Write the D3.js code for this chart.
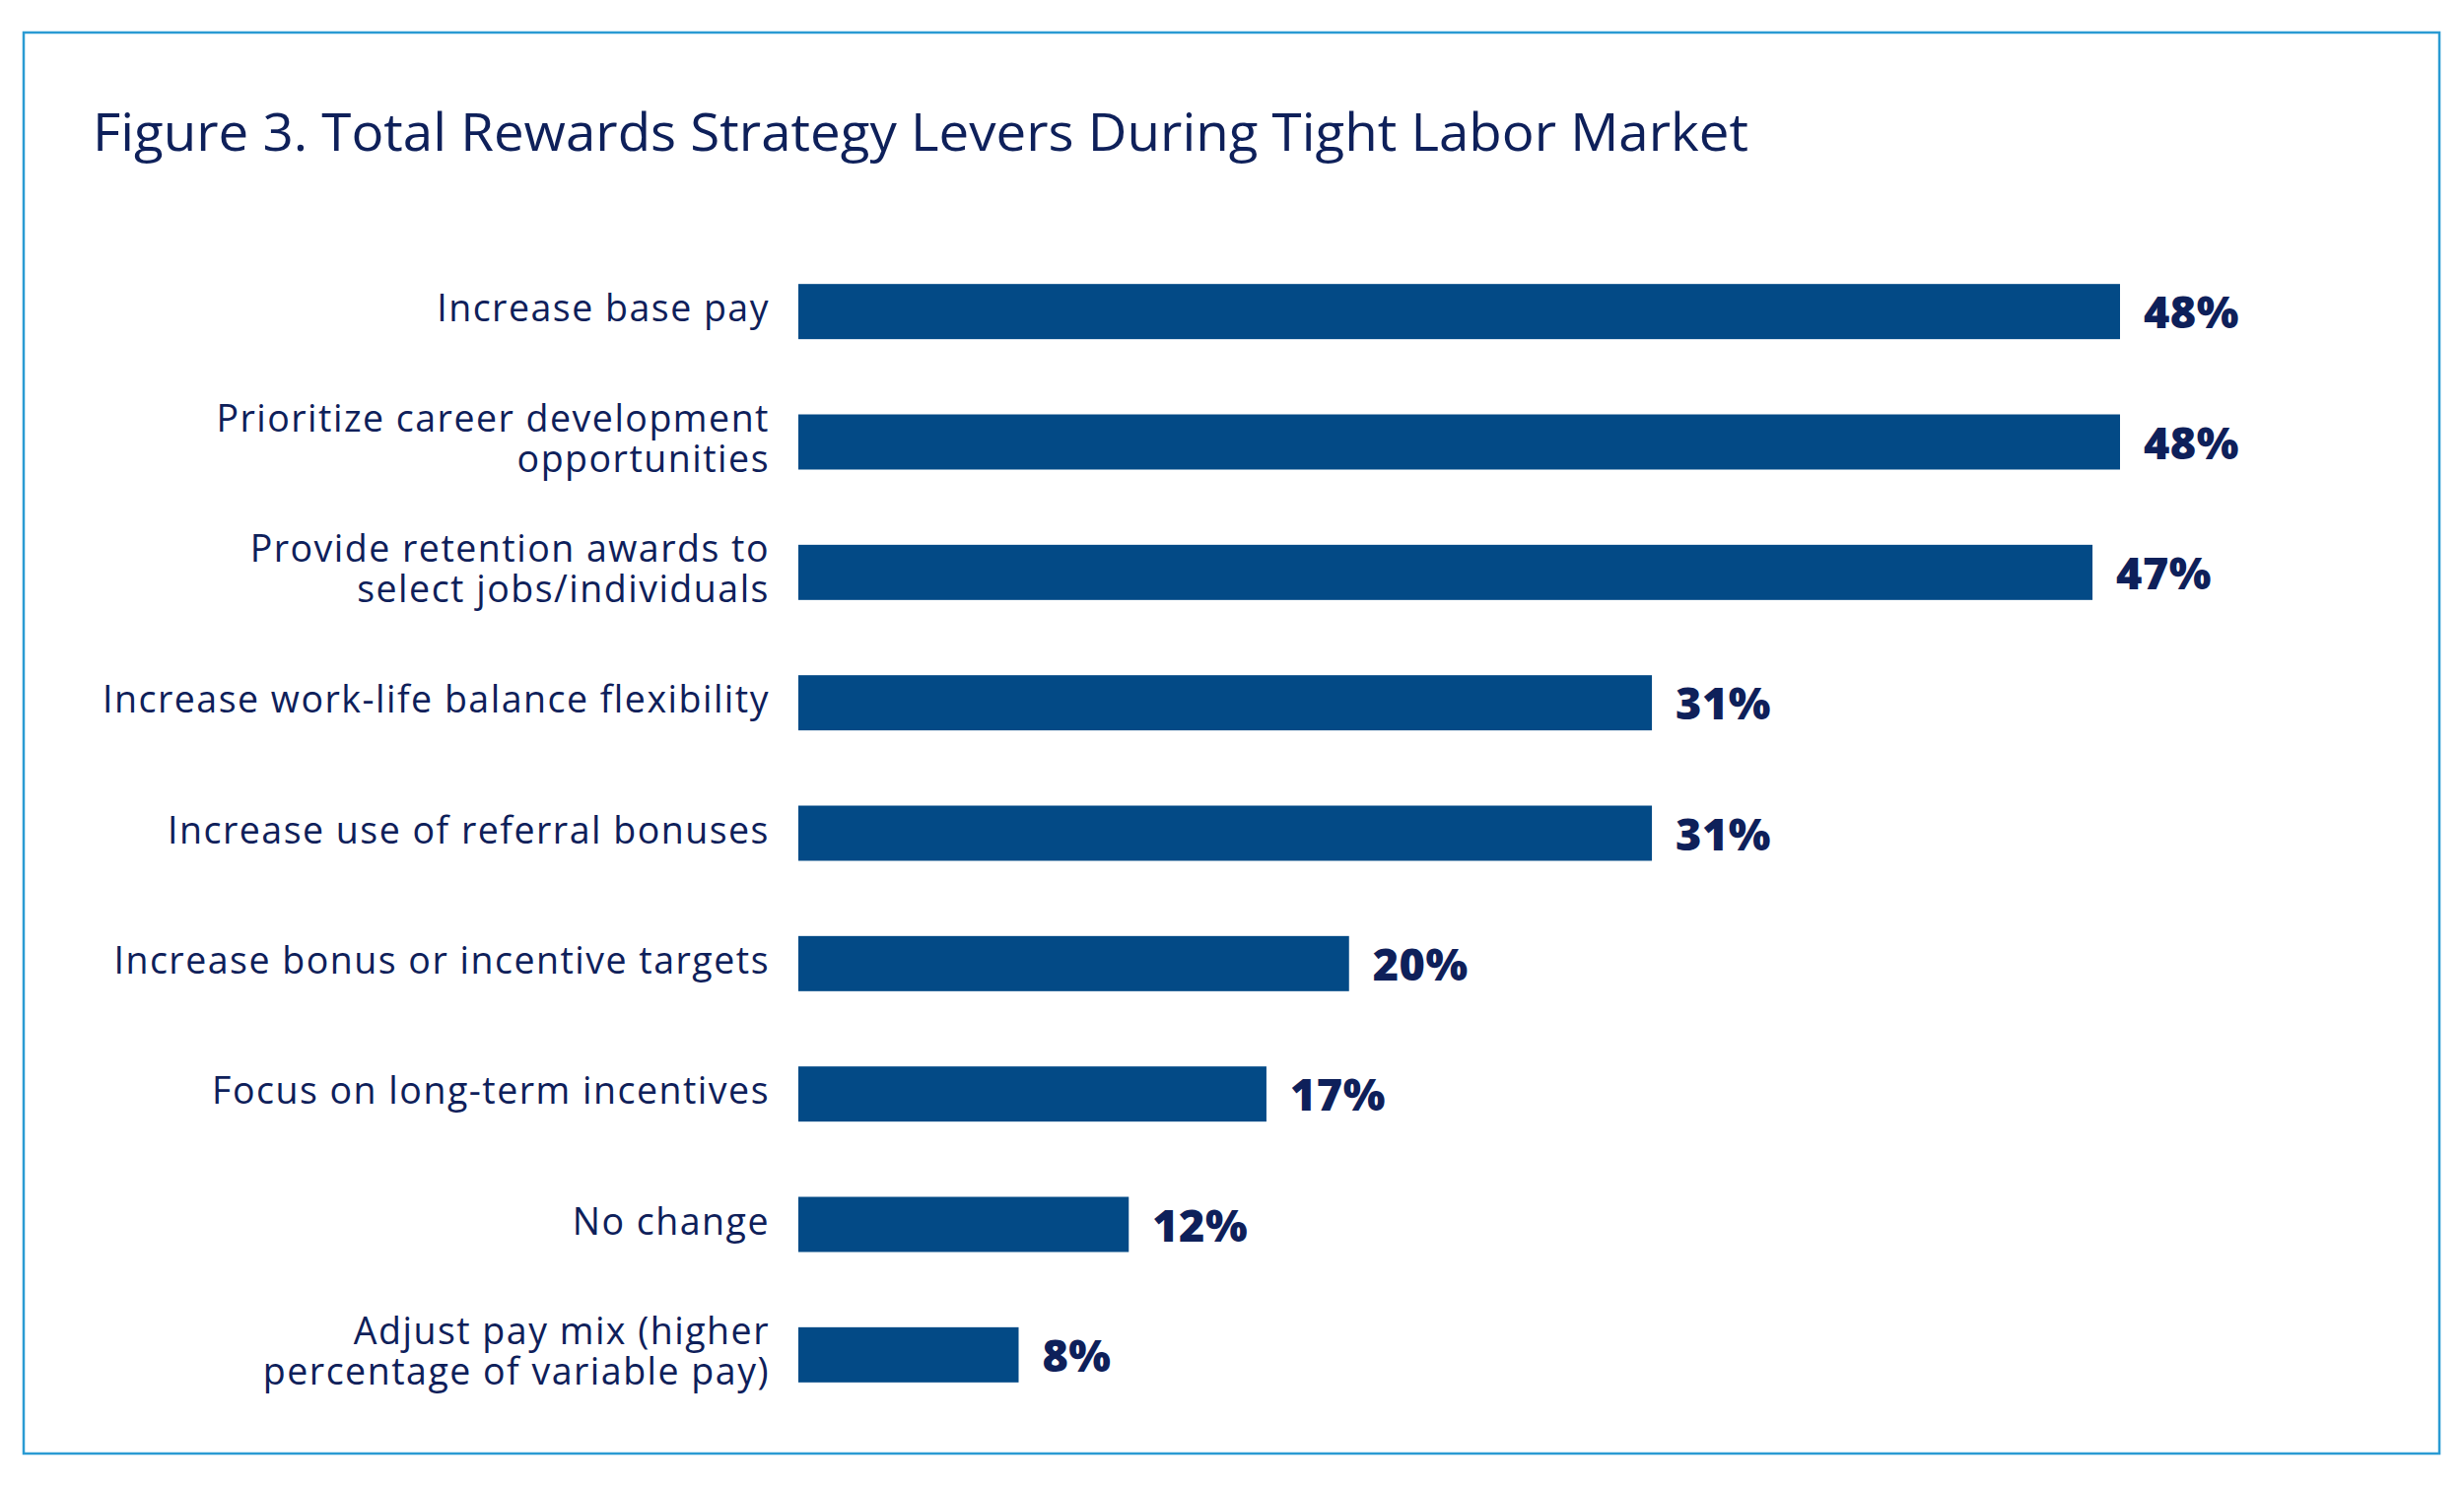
<!DOCTYPE html>
<html>
<head>
<meta charset="utf-8">
<script src="https://cdn.jsdelivr.net/npm/d3@7"></script>
<style>
  html, body { margin: 0; padding: 0; background: #fff; }
  svg { display: block; }
</style>
</head>
<body>
<svg id="chart" width="2500" height="1512"></svg>
<script>
var title = "Figure 3. Total Rewards Strategy Levers During Tight Labor Market";

var categories = [
    "Increase base pay",
    "Prioritize career development\nopportunities",
    "Provide retention awards to\nselect jobs/individuals",
    "Increase work-life balance flexibility",
    "Increase use of referral bonuses",
    "Increase bonus or incentive targets",
    "Focus on long-term incentives",
    "No change",
    "Adjust pay mix (higher\npercentage of variable pay)"
];

var values = [48, 48, 47, 31, 31, 20, 17, 12, 8];

var valueLabels = ["48%", "48%", "47%", "31%", "31%", "20%", "17%", "12%", "8%"];

var W = 2500, H = 1512;
var barColor = "#034a86",
    textColor = "#0e205a",
    frameColor = "#2a9bd3";
var fontFamily = "'Open Sans', 'DejaVu Sans', sans-serif";

var svg = d3.select("#chart");

// frame round the whole figure
svg.append("rect")
    .attr("x", 24)
    .attr("y", 33)
    .attr("width", 2451)
    .attr("height", 1442)
    .attr("fill", "none")
    .attr("stroke", frameColor)
    .attr("stroke-width", 2.5);

svg.append("text")
    .attr("x", 94)
    .attr("y", 153)
    .attr("fill", textColor)
    .attr("font-family", fontFamily)
    .attr("font-size", 53)
    .attr("textLength", 1680)
    .attr("lengthAdjust", "spacingAndGlyphs")
    .text(title);

var x = d3.scaleLinear()
    .domain([0, 48])
    .range([810, 2151]);

var y = d3.scaleBand()
    .domain(d3.range(categories.length))
    .range([250, 1441])
    .paddingInner(0.577)
    .paddingOuter(0.2885);

var rows = svg.append("g").attr("class", "rows")
    .selectAll(".row")
    .data(values)
  .enter().append("g")
    .attr("class", "row");

rows.append("rect")
    .attr("x", x(0))
    .attr("y", function (d, i) { return y(i); })
    .attr("width", function (d) { return x(d) - x(0); })
    .attr("height", y.bandwidth())
    .attr("fill", barColor);

rows.append("text")
    .attr("x", function (d) { return x(d) + 24; })
    .attr("y", function (d, i) { return y(i) + y.bandwidth() / 2 + 1; })
    .attr("dy", "0.36em")
    .attr("fill", textColor)
    .attr("font-family", fontFamily)
    .attr("font-weight", 800)
    .attr("font-size", 45)
    .attr("letter-spacing", 0.5)
    .text(function (d, i) { return valueLabels[i]; });

// category labels, right aligned, one or two lines
var lineGap = 41;
rows.append("text")
    .attr("text-anchor", "end")
    .attr("fill", textColor)
    .attr("font-family", fontFamily)
    .attr("font-size", 37.5)
    .attr("letter-spacing", 1.5)
    .each(function (d, i) {
        var lines = categories[i].split("\n");
        var cy = y(i) + y.bandwidth() / 2 - 3;
        var t = d3.select(this);
        lines.forEach(function (line, k) {
            t.append("tspan")
                .attr("x", 781)
                .attr("y", cy + (k - (lines.length - 1) / 2) * lineGap)
                .attr("dy", "0.35em")
                .text(line);
        });
    });
</script>
</body>
</html>
